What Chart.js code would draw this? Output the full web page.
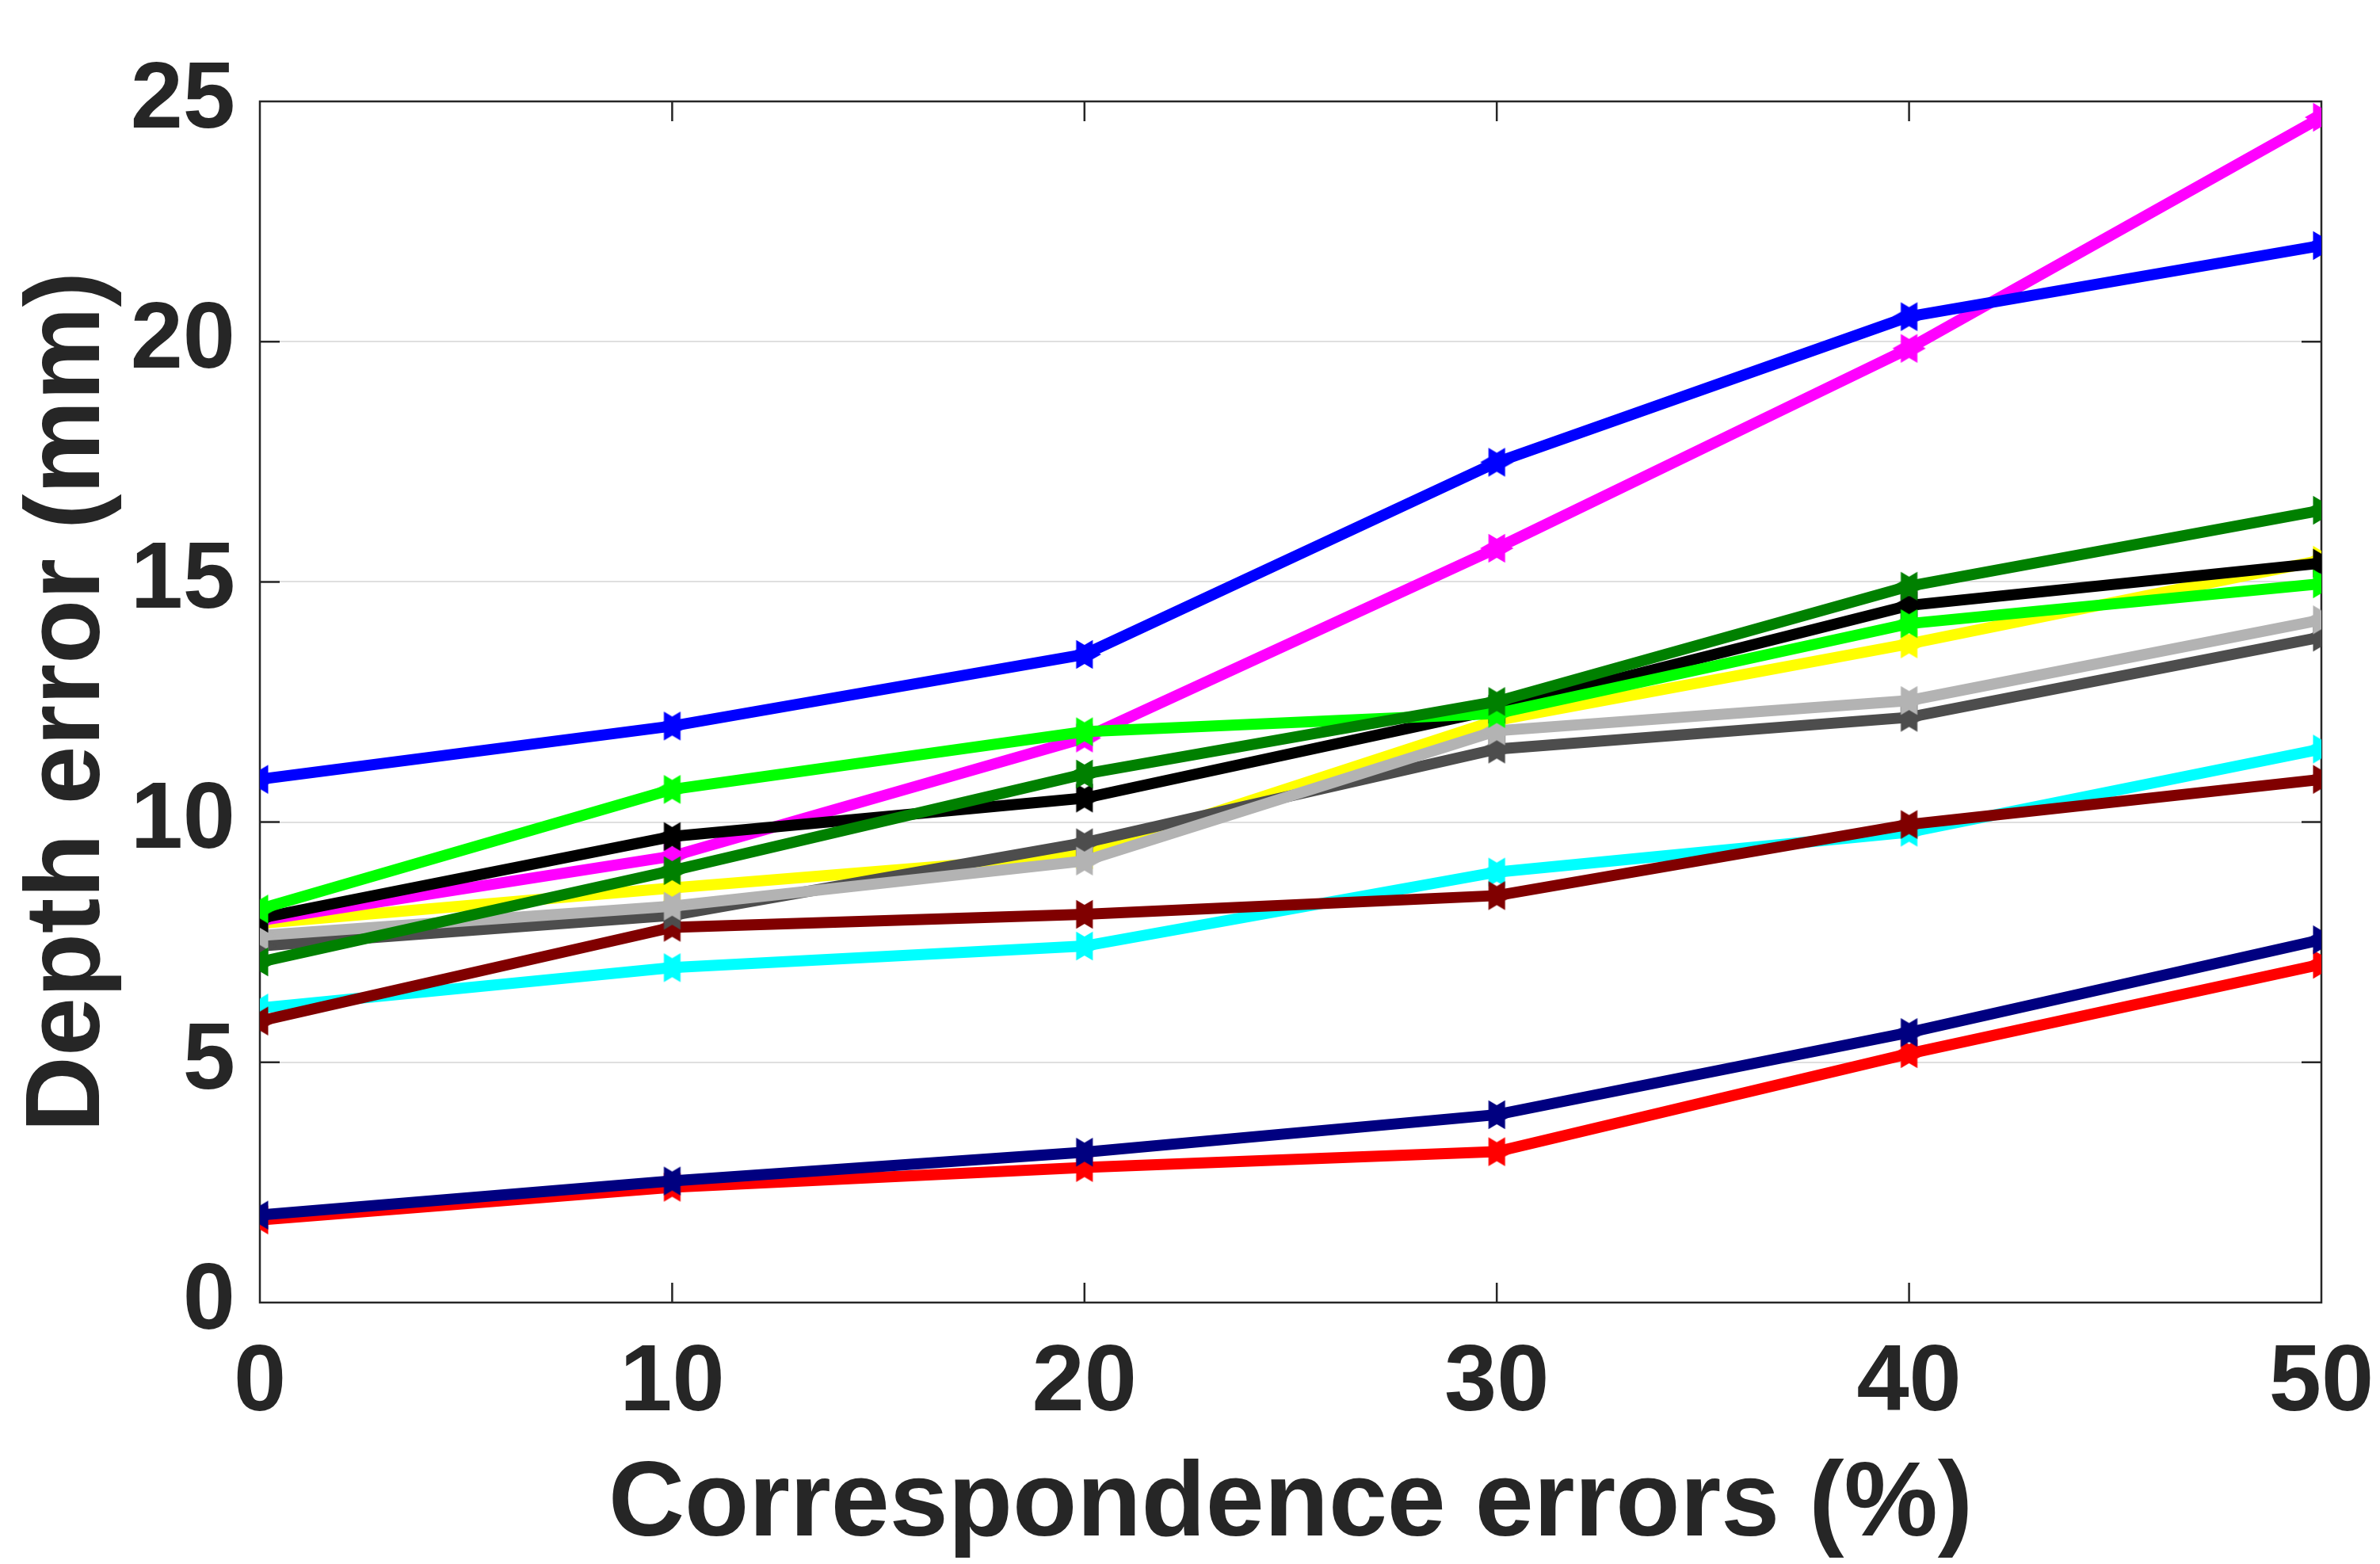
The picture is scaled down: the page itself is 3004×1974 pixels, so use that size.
<!DOCTYPE html>
<html>
<head>
<meta charset="utf-8">
<script src="https://cdn.jsdelivr.net/npm/chart.js@4.4.1/dist/chart.umd.min.js"></script>
<style>
    html, body { margin: 0; padding: 0; background: #ffffff; overflow: hidden; }
    canvas { display: block; }
</style>
</head>
<body>
<canvas id="grafico" width="3004" height="1974"></canvas>
<script>
// ------------------------------ Datos ------------------------------
const erroresCorrespondencia = [0, 10, 20, 30, 40, 50];
const ticksX = [0, 10, 20, 30, 40, 50];
const ticksY = [0, 5, 10, 15, 20, 25];

const errorAzul       = [10.89, 12.00, 13.49, 17.49, 20.52, 22.00];
const errorVerdeOsc   = [7.09, 8.99, 11.00, 12.51, 14.91, 16.49];
const errorVerde      = [8.19, 10.68, 11.88, 12.26, 14.13, 14.96];
const errorNegro      = [8.00, 9.70, 10.50, 12.35, 14.51, 15.39];
const errorGrisClaro  = [7.64, 8.25, 9.19, 11.90, 12.53, 14.21];
const errorGrisOsc    = [7.42, 8.06, 9.57, 11.52, 12.18, 13.85];
const errorMagenta    = [7.95, 9.29, 11.75, 15.70, 19.86, 24.67];
const errorAmarillo   = [7.89, 8.63, 9.32, 12.12, 13.71, 15.45];
const errorGranate    = [5.86, 7.81, 8.08, 8.47, 9.95, 10.89];
const errorCian       = [6.13, 6.97, 7.42, 8.96, 9.79, 11.52];
const errorAzulMarino = [1.82, 2.53, 3.13, 3.91, 5.62, 7.55];
const errorRojo       = [1.72, 2.40, 2.81, 3.14, 5.18, 7.04];

// Orden: la primera serie queda dibujada arriba de todo
const series = [
    { nombre: "Azul", valores: errorAzul, color: "#0000ff" },
    { nombre: "Verde oscuro", valores: errorVerdeOsc, color: "#008000" },
    { nombre: "Verde", valores: errorVerde, color: "#00ff00" },
    { nombre: "Negro", valores: errorNegro, color: "#000000" },
    { nombre: "Gris claro", valores: errorGrisClaro, color: "#b3b3b3" },
    { nombre: "Gris oscuro", valores: errorGrisOsc, color: "#4d4d4d" },
    { nombre: "Magenta", valores: errorMagenta, color: "#ff00ff" },
    { nombre: "Amarillo", valores: errorAmarillo, color: "#ffff00" },
    { nombre: "Granate", valores: errorGranate, color: "#800000" },
    { nombre: "Cian", valores: errorCian, color: "#00ffff" },
    { nombre: "Azul marino", valores: errorAzulMarino, color: "#000080" },
    { nombre: "Rojo", valores: errorRojo, color: "#ff0000" }
];

const colorTexto = "#262626";
const fuente = "'Liberation Sans', Arial, Helvetica, sans-serif";

// ------------------------------ Marcador hexagrama ------------------------------
function crearHexagrama(color) {
    const R = 21;
    const lienzo = document.createElement("canvas");
    lienzo.width = 2 * R + 2;
    lienzo.height = 2 * R + 2;
    const ctx = lienzo.getContext("2d");
    const cx = lienzo.width / 2;
    const cy = lienzo.height / 2;
    const r = R / Math.sqrt(3);
    ctx.beginPath();
    for (let i = 0; i < 12; i++) {
        const ang = i * Math.PI / 6;
        const rad = i % 2 === 0 ? R : r;
        const px = cx + rad * Math.cos(ang);
        const py = cy - rad * Math.sin(ang);
        if (i === 0) ctx.moveTo(px, py);
        else ctx.lineTo(px, py);
    }
    ctx.closePath();
    ctx.fillStyle = color;
    ctx.fill();
    return lienzo;
}

// ------------------------------ Marco y ticks hacia adentro ------------------------------
const marcoEjes = {
    id: "marcoEjes",
    beforeDatasetsDraw(chart) {
        const { ctx, chartArea } = chart;
        const { left, right, top, bottom } = chartArea;
        const largo = 25;
        ctx.save();
        ctx.strokeStyle = colorTexto;
        ctx.lineWidth = 2.5;
        ctx.beginPath();
        ctx.rect(left, top, right - left, bottom - top);
        ticksY.forEach(v => {
            const y = chart.scales.y.getPixelForValue(v);
            ctx.moveTo(left, y); ctx.lineTo(left + largo, y);
            ctx.moveTo(right, y); ctx.lineTo(right - largo, y);
        });
        ticksX.forEach(v => {
            const x = chart.scales.x.getPixelForValue(v);
            ctx.moveTo(x, bottom); ctx.lineTo(x, bottom - largo);
            ctx.moveTo(x, top); ctx.lineTo(x, top + largo);
        });
        ctx.stroke();
        ctx.restore();
    }
};

// ------------------------------ Gráfico ------------------------------
const datasets = series.map((s, i) => ({
    label: s.nombre,
    data: erroresCorrespondencia.map((x, j) => ({ x: x, y: s.valores[j] })),
    borderColor: s.color,
    backgroundColor: s.color,
    borderWidth: 14,
    pointStyle: crearHexagrama(s.color),
    pointRadius: 21,
    tension: 0,
    order: i
}));

new Chart(document.getElementById("grafico"), {
    type: "line",
    data: { datasets: datasets },
    options: {
        responsive: false,
        devicePixelRatio: 1,
        animation: false,
        layout: { padding: { left: 0, right: 74, top: 128, bottom: 0 } },
        plugins: {
            legend: { display: false },
            tooltip: { enabled: false }
        },
        scales: {
            x: {
                type: "linear",
                min: 0,
                max: 50,
                afterFit: (escala) => {
                    escala.height = 330;
                    escala.paddingLeft = 0;
                    escala.paddingRight = 0;
                },
                afterBuildTicks: (escala) => { escala.ticks = ticksX.map(v => ({ value: v })); },
                grid: { display: false, drawTicks: false },
                border: { display: false },
                ticks: {
                    padding: 32,
                    color: colorTexto,
                    font: { family: fuente, size: 119, weight: "bold" },
                    maxRotation: 0
                },
                title: {
                    display: true,
                    text: "Correspondence errors (%)",
                    color: colorTexto,
                    font: { family: fuente, size: 133, weight: "bold", lineHeight: 1 },
                    padding: { top: 0, bottom: 6 }
                }
            },
            y: {
                min: 0,
                max: 25,
                afterFit: (escala) => {
                    escala.width = 328;
                    escala.paddingTop = 0;
                    escala.paddingBottom = 0;
                },
                afterBuildTicks: (escala) => { escala.ticks = ticksY.map(v => ({ value: v })); },
                grid: { color: "#dfdfdf", lineWidth: 2, drawTicks: false },
                border: { display: false },
                ticks: {
                    padding: 31,
                    color: colorTexto,
                    font: { family: fuente, size: 119, weight: "bold" }
                },
                title: {
                    display: true,
                    text: "Depth error (mm)",
                    color: colorTexto,
                    font: { family: fuente, size: 133, weight: "bold", lineHeight: 1 },
                    padding: { top: 22, bottom: 0 }
                }
            }
        }
    },
    plugins: [marcoEjes]
});
</script>
</body>
</html>
